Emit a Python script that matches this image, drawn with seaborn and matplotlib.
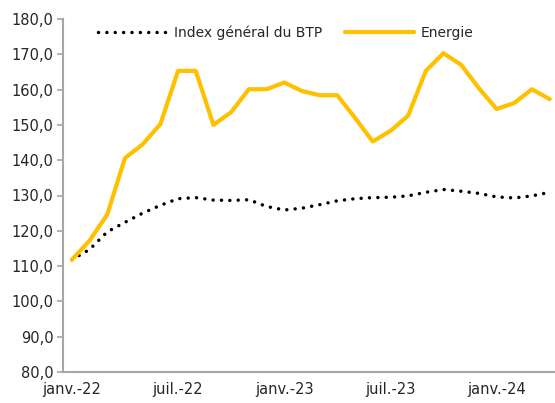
import pandas as pd
import matplotlib.pyplot as plt
import seaborn as sns
from matplotlib.ticker import FuncFormatter

# monthly values, janv.-22 to avr.-24
months = pd.date_range("2022-01-01", periods=28, freq="MS")
btp = [111.8, 114.7, 119.7, 122.4, 125.0, 127.2, 129.1, 129.4, 128.7, 128.6,
       128.8, 126.9, 125.9, 126.4, 127.4, 128.5, 129.1, 129.4, 129.5, 129.9,
       130.9, 131.7, 131.2, 130.6, 129.6, 129.3, 129.9, 130.9]
energie = [111.8, 117.2, 124.6, 140.6, 144.5, 150.2, 165.3, 165.3, 150.0, 153.6,
           160.1, 160.1, 162.0, 159.6, 158.4, 158.4, 152.0, 145.3, 148.3, 152.6,
           165.3, 170.3, 167.0, 160.4, 154.5, 156.2, 160.1, 157.3]
tick_labels = ["janv.-22", "juil.-22", "janv.-23", "juil.-23", "janv.-24"]

df = pd.DataFrame({"i": range(len(months)), "btp": btp, "energie": energie})

sns.set_style("white")
plt.rcParams["font.family"] = ["DejaVu Sans"]

fig = plt.figure(figsize=(5.55, 4.03), dpi=100)
ax = fig.add_axes([63 / 555, 31 / 403, 1 - 63 / 555, (372 - 19) / 403])

sns.lineplot(data=df, x="i", y="btp", ax=ax, color="black", linewidth=2.5,
             linestyle=(0, (0.01, 2.4)), dash_capstyle="round",
             label="Index général du BTP")
sns.lineplot(data=df, x="i", y="energie", ax=ax, color="#FFC000", linewidth=3,
             label="Energie")

ax.set_ylim(80, 180)
ax.set_yticks(range(80, 181, 10))
ax.yaxis.set_major_formatter(FuncFormatter(lambda v, p: f"{v:.1f}".replace(".", ",")))
ax.set_xlim(-0.5, 27.3)

# labels on the data points, tick marks between months
ax.set_xticks([0, 6, 12, 18, 24])
ax.set_xticklabels(tick_labels)
ax.set_xticks([-0.5, 5.5, 11.5, 17.5, 23.5], minor=True)
ax.tick_params(axis="x", which="major", length=0, labelsize=10.5, pad=7)
ax.tick_params(axis="x", which="minor", length=5, width=1.2, color="#A6A6A6",
               direction="out")
ax.tick_params(axis="y", length=4, width=1.2, color="#A6A6A6", labelsize=10.5,
               direction="out", left=True, pad=3)

ax.set_xlabel("")
ax.set_ylabel("")
for s in ["top", "right"]:
    ax.spines[s].set_visible(False)
for s in ["left", "bottom"]:
    ax.spines[s].set_color("#A6A6A6")
    ax.spines[s].set_linewidth(1.5)

leg = ax.legend(loc="center", bbox_to_anchor=(0.515, 0.918),
                bbox_transform=fig.transFigure, ncol=2, frameon=False,
                handlelength=5.0, fontsize=10, columnspacing=1.6,
                handletextpad=0.5)

fig.savefig("out.png", dpi=100)
